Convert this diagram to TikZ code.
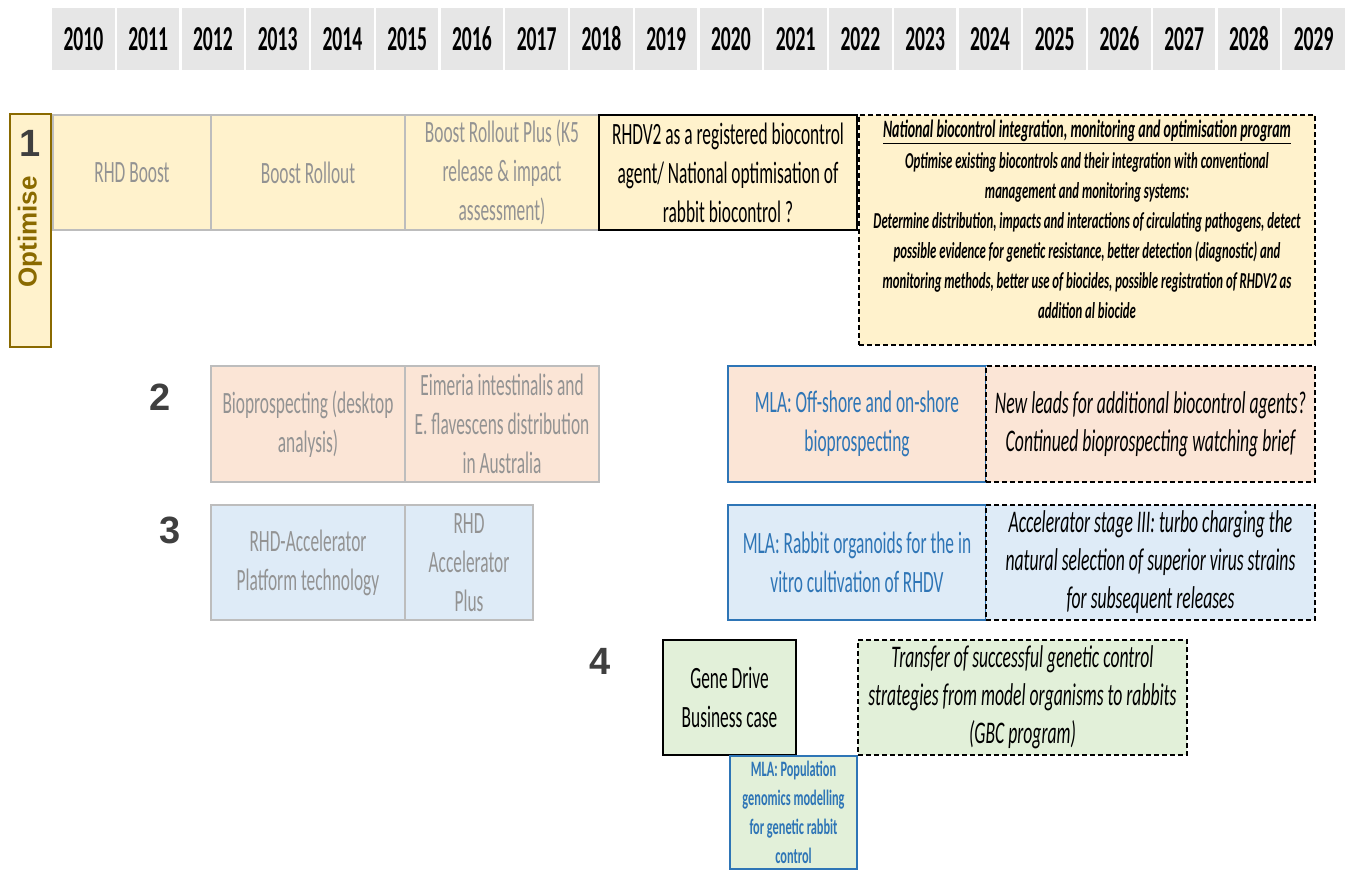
\documentclass[tikz,border=0pt]{standalone}
\usepackage{fontspec}
\setmainfont{Carlito}[FakeStretch=0.56]
\newfontfamily\numfont{Liberation Sans}
\usetikzlibrary{positioning}

\definecolor{headgrey}{HTML}{E6E6E6}
\definecolor{cellgrey}{HTML}{BDBDBD}
\definecolor{textgrey}{HTML}{939393}
\definecolor{numgrey}{HTML}{3F3F3F}
\definecolor{optyellow}{HTML}{FFF2CC}
\definecolor{optgold}{HTML}{8A6A00}
\definecolor{biopeach}{HTML}{FBE5D6}
\definecolor{accelblue}{HTML}{DEEBF7}
\definecolor{genegreen}{HTML}{E2F0D9}
\definecolor{mlablue}{HTML}{2E75B6}

\tikzset{
  cell/.style={draw, rectangle, inner sep=0pt, align=center,
    font=\fontsize{31}{39}\selectfont},
  oldcell/.style={cell, draw=cellgrey, text=textgrey, line width=1.5pt},
  newcell/.style={cell, draw=black, line width=2pt},
  mlacell/.style={cell, draw=mlablue, text=mlablue, line width=2pt},
  plancell/.style={cell, draw=black, dashed, dash pattern=on 5pt off 3pt,
    line width=1.8pt, font=\itshape\fontsize{31.5}{38}\selectfont},
  yearcell/.style={fill=headgrey, inner sep=0pt, minimum width=62.5pt,
    minimum height=62pt, font=\bfseries\fontsize{35}{40}\selectfont},
  themenum/.style={font=\numfont\bfseries\fontsize{38}{40}\selectfont,
    text=numgrey},
}

\begin{document}
\begin{tikzpicture}[x=1pt, y=-1pt]
  \useasboundingbox (0,0) rectangle (1350,870);
  % ── Year header ──
  \foreach \yr [count=\i from 0] in {2010,2011,...,2029}
    \node[yearcell] (y\yr) at (83.4+64.75*\i, 39) {\yr};
  %
  % ── 1 Optimise ──
  \node[draw=optgold, line width=2pt, fill=optyellow, minimum width=41pt,
    minimum height=233pt, inner sep=0pt] (optbox) at (30.5,230.5) {};
  \node[themenum] (num1) at (30,143) {1};
  \node[rotate=90, text=optgold, font=\numfont\bfseries\fontsize{26}{28}\selectfont]
    (optlabel) at (30,232) {Optimise};
  \node[oldcell, fill=optyellow, minimum width=158pt, minimum height=115pt]
    (rhdboost) at (132,172.5) {RHD Boost};
  \node[oldcell, fill=optyellow, minimum width=194pt, minimum height=115pt]
    (rollout) at (308,172.5) {Boost Rollout};
  \node[oldcell, fill=optyellow, minimum width=194pt, minimum height=115pt]
    (rolloutplus) at (502,172.5) {Boost Rollout Plus (K5\\release \& impact\\assessment)};
  \node[newcell, fill=optyellow, minimum width=258pt, minimum height=115pt]
    (rhdv2) at (728,172.5)
    {RHDV2 as a registered biocontrol\\agent/ National optimisation of\\rabbit biocontrol ?};
  \node[plancell, fill=optyellow, minimum width=456pt, minimum height=230pt]
    (natbox) at (1087,230) {};
  \node[below=6pt of natbox.north, align=center, inner sep=0pt,
    font=\bfseries\itshape\fontsize{22.8}{30}\selectfont] (nattext)
    {{\fontsize{25}{30}\selectfont\underline{National biocontrol integration, monitoring and optimisation program}}\\[1pt]
     Optimise existing biocontrols and their integration with conventional\\
     management and monitoring systems:\\
     Determine distribution, impacts and interactions of circulating pathogens, detect\\
     possible evidence for genetic resistance, better detection (diagnostic) and\\
     monitoring methods, better use of biocides, possible registration of RHDV2 as\\
     addition al biocide};
  %
  % ── 2 Bioprospecting ──
  \node[themenum] (num2) at (160,397) {2};
  \node[oldcell, fill=biopeach, minimum width=194pt, minimum height=116pt]
    (biodesk) at (308,424) {Bioprospecting (desktop\\analysis)};
  \node[oldcell, fill=biopeach, minimum width=194pt, minimum height=116pt]
    (eimeria) at (502,424)
    {Eimeria intestinalis and\\E. flavescens distribution\\in Australia};
  \node[mlacell, fill=biopeach, minimum width=258pt, minimum height=116pt]
    (mlabio) at (857,424) {MLA: Off-shore and on-shore\\bioprospecting};
  \node[plancell, fill=biopeach, minimum width=329pt, minimum height=116pt]
    (newleads) at (1150.5,424)
    {New leads for additional biocontrol agents?\\Continued bioprospecting watching brief};
  %
  % ── 3 Accelerator ──
  \node[themenum] (num3) at (170,530) {3};
  \node[oldcell, fill=accelblue, minimum width=194pt, minimum height=115pt]
    (accel) at (308,562.5) {RHD-Accelerator\\Platform technology};
  \node[oldcell, fill=accelblue, minimum width=128pt, minimum height=115pt]
    (accelplus) at (469,562.5) {RHD\\Accelerator\\Plus};
  \node[mlacell, fill=accelblue, minimum width=258pt, minimum height=115pt]
    (mlaorg) at (857,562.5) {MLA: Rabbit organoids for the in\\vitro cultivation of RHDV};
  \node[plancell, fill=accelblue, minimum width=329pt, minimum height=115pt]
    (stage3) at (1150.5,562.5)
    {Accelerator stage III: turbo charging the\\natural selection of superior virus strains\\for subsequent releases};
  %
  % ── 4 Gene drive ──
  \node[themenum] (num4) at (600,661) {4};
  \node[newcell, fill=genegreen, minimum width=133pt, minimum height=115pt]
    (genedrive) at (729.5,697.5) {Gene Drive\\Business case};
  \node[mlacell, fill=genegreen, line width=1.5pt, minimum width=127pt,
    minimum height=113pt, font=\bfseries\fontsize{22}{29}\selectfont]
    (mlapop) at (793.5,812.5)
    {MLA: Population\\genomics modelling\\for genetic rabbit\\control};
  \node[plancell, fill=genegreen, minimum width=329pt, minimum height=115pt]
    (transfer) at (1022.5,697.5)
    {Transfer of successful genetic control\\strategies from model organisms to rabbits\\(GBC program)};
\end{tikzpicture}
\end{document}
